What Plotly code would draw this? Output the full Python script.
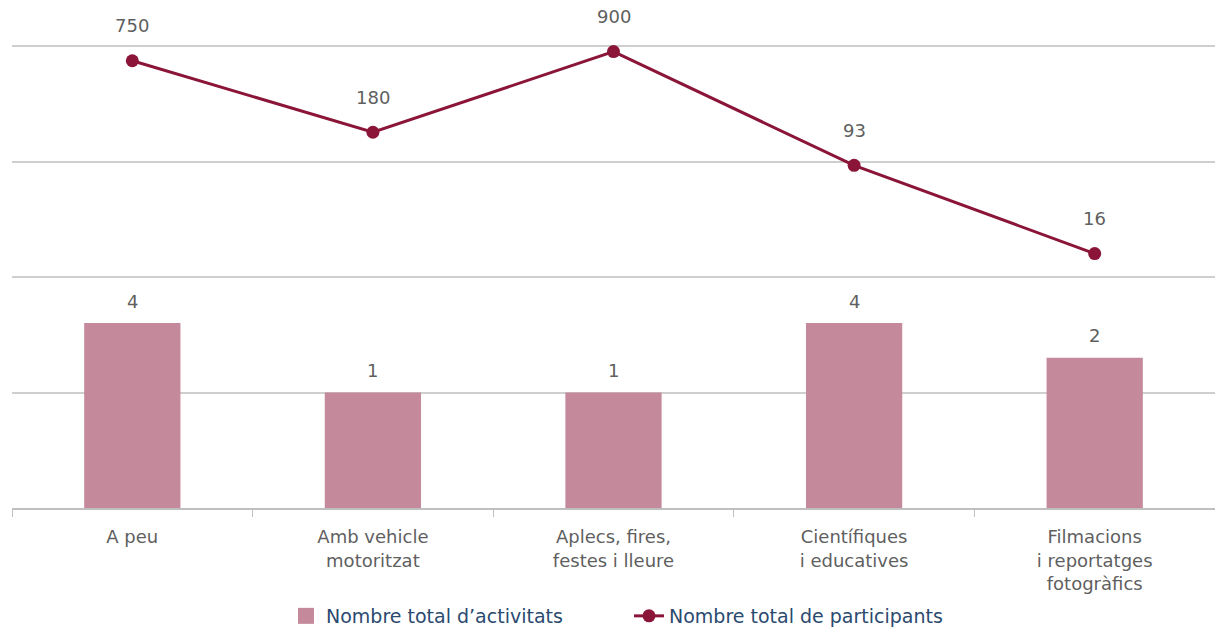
import math
import plotly.graph_objects as go

categories = ["A peu", "Amb vehicle<br>motoritzat", "Aplecs, fires,<br>festes i lleure",
              "Científiques<br>i educatives", "Filmacions<br>i reportatges<br>fotogràfics"]
activitats = [4, 1, 1, 4, 2]
participants = [750, 180, 900, 93, 16]

FONT = "DejaVu Sans, Verdana, sans-serif"
GRAY = "#5f5f5f"
BAR_COLOR = "#c4899a"
LINE_COLOR = "#8b1538"

fig = go.Figure()
fig.add_trace(go.Bar(
    x=categories, y=activitats, name="Nombre total d’activitats",
    marker=dict(color=BAR_COLOR, line=dict(width=0)),
    width=0.4, showlegend=False,
))
# legend entry for bars (larger square symbol)
fig.add_trace(go.Scatter(
    x=[None], y=[None], mode="markers", name="Nombre total d’activitats",
    marker=dict(color=BAR_COLOR, symbol="square", size=20),
))
fig.add_trace(go.Scatter(
    x=categories, y=participants, name="Nombre total de participants",
    mode="lines+markers",
    line=dict(color=LINE_COLOR, width=3),
    marker=dict(color=LINE_COLOR, size=13),
    cliponaxis=False,
))

annotations = []
for c, v in zip(categories, activitats):
    annotations.append(dict(x=c, y=math.log10(v), xref="x", yref="y", text=str(v),
                            showarrow=False, yanchor="middle", yshift=22,
                            font=dict(family=FONT, size=18, color=GRAY)))
for c, v in zip(categories, participants):
    annotations.append(dict(x=c, y=math.log10(v), xref="x", yref="y", text=str(v),
                            showarrow=False, yanchor="middle", yshift=35,
                            font=dict(family=FONT, size=18, color=GRAY)))

TOP, BOTTOM, LEFT, RIGHT = 44, 120, 12, 0
plot_h = 628 - TOP - BOTTOM
plot_w = 1215 - LEFT - RIGHT

fig.update_layout(
    width=1215, height=628,
    margin=dict(l=LEFT, r=RIGHT, t=TOP, b=BOTTOM, autoexpand=False),
    plot_bgcolor="white", paper_bgcolor="white",
    font=dict(family=FONT, size=18, color=GRAY),
    showlegend=True,
    legend=dict(orientation="h", x=(286 - LEFT) / plot_w, xanchor="left",
                y=-(616 - (628 - BOTTOM)) / plot_h,
                yref="paper", yanchor="middle",
                font=dict(size=19, color="#2b4a6f"),
                entrywidth=298, entrywidthmode="pixels",
                itemsizing="trace", tracegroupgap=0),
    annotations=annotations,
    bargap=0.6,
    xaxis=dict(
        type="category", tickson="boundaries", ticks="outside", ticklen=7,
        tickcolor="#bfbfbf", showline=True, linecolor="#bfbfbf", linewidth=1.5,
        showgrid=False, tickfont=dict(size=18, color=GRAY), fixedrange=True,
        ticklabelstandoff=12,
    ),
    yaxis=dict(
        type="log", range=[-1, 3.02], showticklabels=False, ticks="",
        dtick=1, showgrid=True, gridcolor="#cfcfcf", gridwidth=1.5,
        zeroline=False, showline=False, fixedrange=True,
    ),
)

fig.write_html("out.html", config={"displayModeBar": False},
               post_script="document.body.style.margin='0px';")
